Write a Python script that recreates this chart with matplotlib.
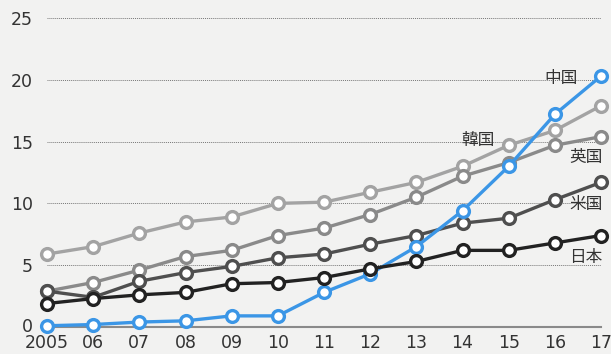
import matplotlib.pyplot as plt
from matplotlib.transforms import offset_copy

plt.rcParams['font.family'] = ['Noto Sans CJK JP', 'DejaVu Sans']

years = ['2005', '06', '07', '08', '09', '10', '11', '12', '13', '14', '15', '16', '17']

kankoku = [5.9, 6.5, 7.6, 8.5, 8.9, 10.0, 10.1, 10.9, 11.7, 13.0, 14.7, 15.9, 17.9]
eikoku = [2.9, 3.6, 4.6, 5.7, 6.2, 7.4, 8.0, 9.1, 10.5, 12.2, 13.3, 14.7, 15.4]
beikoku = [2.9, 2.4, 3.7, 4.4, 4.9, 5.6, 5.9, 6.7, 7.4, 8.4, 8.8, 10.3, 11.7]
chugoku = [0.1, 0.2, 0.4, 0.5, 0.9, 0.9, 2.8, 4.3, 6.5, 9.4, 13.0, 17.2, 20.3]
nihon = [1.9, 2.3, 2.6, 2.8, 3.5, 3.6, 4.0, 4.7, 5.3, 6.2, 6.2, 6.8, 7.4]
yticks = [0, 5, 10, 15, 20, 25]

series = [
    ('韓国', kankoku, '#a3a3a3'),
    ('英国', eikoku, '#8a8a8a'),
    ('米国', beikoku, '#4f4f4f'),
    ('中国', chugoku, '#3b96e6'),
    ('日本', nihon, '#222222'),
]

bg = '#f2f2f1'
fig = plt.figure(figsize=(6.11, 3.54), dpi=100, facecolor=bg)
ax = fig.add_axes([47 / 611, 27 / 354, 554 / 611, 309 / 354], facecolor=bg)

x = list(range(len(years)))
for name, vals, col in series:
    ax.plot(x, vals, color=col, linewidth=2.4, marker='o', markersize=8.5,
            markerfacecolor='white', markeredgecolor=col, markeredgewidth=2.4,
            clip_on=False, zorder=3)

# ラベル
lab = dict(fontsize=12, color='#333333', ha='right', va='center')
ax.text(11.5, 20.1, '中国', **lab)
ax.text(9.7, 15.1, '韓国', **lab)
ax.text(12.03, 13.75, '英国', **lab)
ax.text(12.03, 9.9, '米国', **lab)
ax.text(12.03, 5.6, '日本', **lab)

ax.set_xlim(0, 12)
ax.set_ylim(0, 25)
ax.set_yticks(yticks)
ax.set_yticklabels([])
ax.set_xticks(x)
ax.set_xticklabels(years, family='DejaVu Sans')
ax.tick_params(length=0, labelsize=12.5, colors='#333333')
ax.tick_params(axis='x', pad=5)

# 縦軸の数字（0 は少し上に）
ytr = ax.get_yaxis_transform()
for v in yticks:
    tr = offset_copy(ytr, fig=fig, x=0, y=2 if v == 0 else 0, units='dots')
    ax.text(-0.025, v, str(v), transform=tr, ha='right', va='center_baseline',
            fontsize=12.5, color='#333333', family='DejaVu Sans')

ax.yaxis.grid(True, linestyle=(0, (1, 1)), color='#777777', linewidth=0.7)
for s in ['top', 'right', 'left']:
    ax.spines[s].set_visible(False)
ax.spines['bottom'].set_color('#8a8a8a')
ax.spines['bottom'].set_linewidth(1.5)
ax.spines['bottom'].set_zorder(2)

fig.savefig('out.png', dpi=100, facecolor=bg)
